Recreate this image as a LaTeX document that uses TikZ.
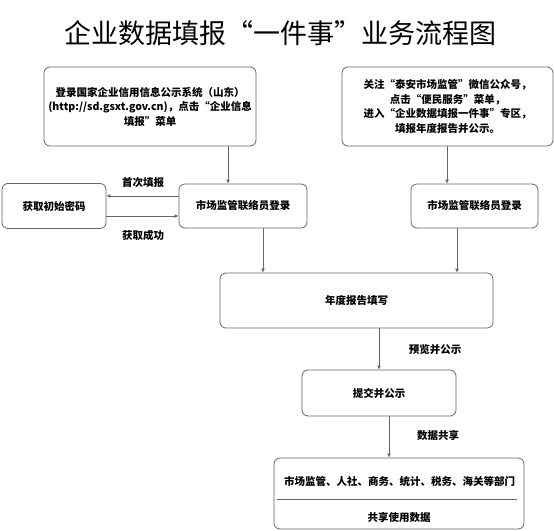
\documentclass[tikz,border=0pt]{standalone}
\usepackage{fontspec}
\setmainfont{Noto Sans CJK SC}
\usepackage{tikz}
\usetikzlibrary{arrows.meta,positioning}
\newcommand{\fwq}[1]{\makebox[1em]{#1}}

\begin{document}
\begin{tikzpicture}[x=1pt,y=-1pt,
box/.style={draw=black!60,line width=.8pt,rounded corners=6pt,align=center,font=\fontsize{10.5}{14.5}\selectfont\bfseries,inner sep=0pt},
lbl/.style={font=\fontsize{10.5}{14}\selectfont\bfseries,inner sep=0pt},
arr/.style={-{Latex[length=4pt,width=4pt]},draw=black!60,line width=.8pt}]
\useasboundingbox (0,0) rectangle (554,530);
\node[font=\fontsize{27}{30}\selectfont](title) at (280,33){企业数据填报\fwq{“}一件事\fwq{”}业务流程图};
\node[box,minimum width=212pt,minimum height=79pt](info) at (150,106.5){登录国家企业信用信息公示系统（山东）\\(http://sd.gsxt.gov.cn)，点击\fwq{“}企业信息\\填报\fwq{”}菜单};
\node[box,minimum width=211pt,minimum height=79pt](wechat) at (447.5,106.5){关注\fwq{“}泰安市场监管\fwq{”}微信公众号，\\点击\fwq{“}便民服务\fwq{”}菜单，\\进入\fwq{“}企业数据填报一件事\fwq{”}专区，\\填报年度报告并公示。};
\node[box,minimum width=104pt,minimum height=45pt](pwd) at (54,206){获取初始密码};
\node[box,minimum width=128pt,minimum height=44pt](login1) at (243,206){市场监管联络员登录};
\node[box,minimum width=127pt,minimum height=44pt](login2) at (474.5,206){市场监管联络员登录};
\node[box,minimum width=273pt,minimum height=55pt](report) at (356.5,300.5){年度报告填写};
\node[box,minimum width=154pt,minimum height=46pt](submit) at (379,393){提交并公示};
\node[box,minimum width=250pt,minimum height=71pt](share) at (399,493.5){};
\node[lbl](depts) at (399.5,481){市场监管、人社、商务、统计、税务、海关等部门};
\node[lbl](usage) at (399,517){共享使用数据};
\draw[draw=black!60,line width=.8pt]([xshift=3pt,yshift=-5.5pt]share.west)--([xshift=-7pt,yshift=-5.5pt]share.east);
% labels on the connectors
\node[lbl](first) at (143,183){首次填报};
\node[lbl](got) at (143,235){获取成功};
\node[lbl](preview) at (435,350){预览并公示};
\node[lbl](datashare) at (438,435){数据共享};
\draw[arr]([xshift=78pt]info.south)--([xshift=-15pt]login1.north);
\draw[arr]([xshift=-.5pt]wechat.south)--([xshift=-27.5pt]login2.north);
\draw[arr]([yshift=10pt]login1.west)--([yshift=10pt]pwd.east);
\draw[arr]([yshift=-10pt]pwd.east)--([yshift=-10pt]login1.west);
\draw[arr]([xshift=20pt]login1.south)--([xshift=-93.5pt]report.north);
\draw[arr]([xshift=-17.5pt]login2.south)--([xshift=100.5pt]report.north);
\draw[arr]([xshift=22.5pt]report.south)--(submit.north);
\draw[arr]([xshift=10pt]submit.south)--([xshift=-10pt]share.north);
\end{tikzpicture}
\end{document}
